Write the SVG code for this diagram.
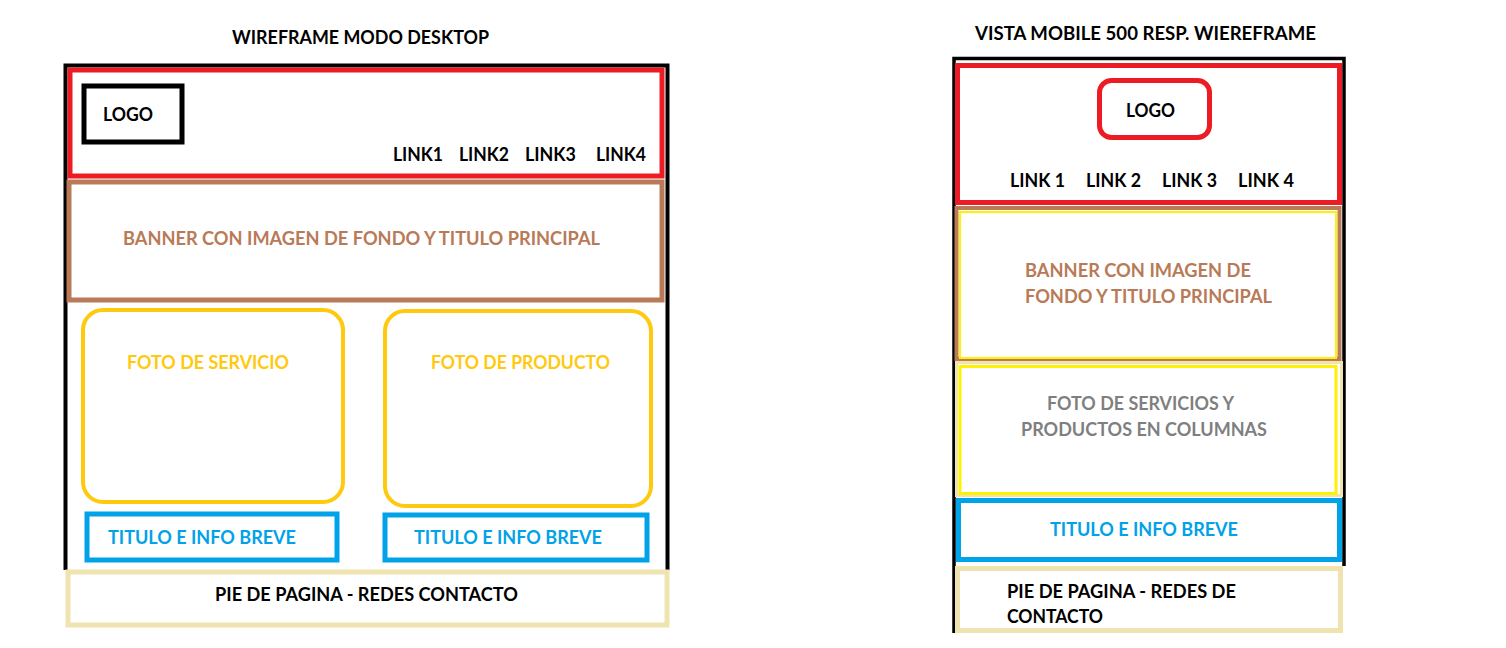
<svg xmlns="http://www.w3.org/2000/svg" width="1506" height="648" viewBox="0 0 1506 648">
<style>
text{font-family:Lato,"Open Sans","Liberation Sans",sans-serif;font-weight:bold;font-size:18px}
.k{fill:#000}.br{fill:#b97a57}.gd{fill:#ffc90e}.bl{fill:#00a2e8}.gr{fill:#7f7f7f}
.box{fill:none}
</style>
<rect width="1506" height="648" fill="#fff"/>
<g id="desktop">
<text class="k" x="232" y="44" textLength="257" lengthAdjust="spacingAndGlyphs">WIREFRAME MODO DESKTOP</text>
<g id="d-frame"><path d="M65.5 570 V65.5 H667.5 V570" fill="none" stroke="#000" stroke-width="4"/></g>
<g id="d-header">
<rect x="70" y="70" width="592" height="106" class="box" stroke="#ed1c24" stroke-width="5"/>
<rect x="84" y="86" width="98" height="56" class="box" stroke="#000" stroke-width="5"/>
<text class="k" x="103" y="121" textLength="50" lengthAdjust="spacingAndGlyphs">LOGO</text>
<text class="k" x="393" y="160.5" textLength="50" lengthAdjust="spacingAndGlyphs">LINK1</text>
<text class="k" x="459" y="160.5" textLength="50" lengthAdjust="spacingAndGlyphs">LINK2</text>
<text class="k" x="525" y="160.5" textLength="51" lengthAdjust="spacingAndGlyphs">LINK3</text>
<text class="k" x="596" y="160.5" textLength="50" lengthAdjust="spacingAndGlyphs">LINK4</text>
</g>
<g id="d-banner">
<rect x="69" y="182" width="593" height="118" class="box" stroke="#b97a57" stroke-width="5"/>
<text class="br" x="123" y="244.5" textLength="477" lengthAdjust="spacingAndGlyphs">BANNER CON IMAGEN DE FONDO Y TITULO PRINCIPAL</text>
</g>
<g id="d-servicio">
<rect x="83" y="310" width="260" height="192" rx="20" class="box" stroke="#ffc90e" stroke-width="4"/>
<text class="gd" x="127" y="368.5" textLength="162" lengthAdjust="spacingAndGlyphs">FOTO DE SERVICIO</text>
</g>
<g id="d-producto">
<rect x="385" y="311" width="266" height="195" rx="20" class="box" stroke="#ffc90e" stroke-width="4"/>
<text class="gd" x="431" y="368.5" textLength="179" lengthAdjust="spacingAndGlyphs">FOTO DE PRODUCTO</text>
</g>
<g id="d-info1">
<rect x="87" y="514" width="250" height="46" class="box" stroke="#00a2e8" stroke-width="5"/>
<text class="bl" x="108" y="543.5" textLength="188" lengthAdjust="spacingAndGlyphs">TITULO E INFO BREVE</text>
</g>
<g id="d-info2">
<rect x="385" y="515" width="262" height="45" class="box" stroke="#00a2e8" stroke-width="5"/>
<text class="bl" x="414" y="543.5" textLength="188" lengthAdjust="spacingAndGlyphs">TITULO E INFO BREVE</text>
</g>
<g id="d-footer">
<rect x="68" y="572" width="599" height="53" class="box" stroke="#efe4b0" stroke-width="5"/>
<text class="k" x="215" y="600.5" textLength="303" lengthAdjust="spacingAndGlyphs">PIE DE PAGINA - REDES CONTACTO</text>
</g>
</g>
<g id="mobile">
<text class="k" x="975" y="39.5" textLength="341" lengthAdjust="spacingAndGlyphs">VISTA MOBILE 500 RESP. WIEREFRAME</text>
<g id="m-frame"><path d="M954 633 V58.5 H1344 V566" fill="none" stroke="#000" stroke-width="3.5"/></g>
<g id="m-header">
<rect x="957.5" y="65.5" width="382" height="137" class="box" stroke="#ed1c24" stroke-width="5"/>
<rect x="1099.5" y="80.5" width="110" height="57" rx="12" class="box" stroke="#ed1c24" stroke-width="5"/>
<text class="k" x="1126" y="116.5" textLength="49" lengthAdjust="spacingAndGlyphs">LOGO</text>
<text class="k" x="1010" y="186.5" textLength="55" lengthAdjust="spacingAndGlyphs">LINK 1</text>
<text class="k" x="1086" y="186.5" textLength="55" lengthAdjust="spacingAndGlyphs">LINK 2</text>
<text class="k" x="1162" y="186.5" textLength="55" lengthAdjust="spacingAndGlyphs">LINK 3</text>
<text class="k" x="1238" y="186.5" textLength="56" lengthAdjust="spacingAndGlyphs">LINK 4</text>
</g>
<g id="m-banner">
<rect x="956.5" y="208" width="383" height="151" class="box" stroke="#b97a57" stroke-width="4"/>
<rect x="960" y="212" width="376" height="146" class="box" stroke="#fff200" stroke-width="2"/>
<text class="br" x="1025" y="276.5" textLength="226" lengthAdjust="spacingAndGlyphs">BANNER CON IMAGEN DE</text>
<text class="br" x="1025" y="302.5" textLength="247" lengthAdjust="spacingAndGlyphs">FONDO Y TITULO PRINCIPAL</text>
</g>
<g id="m-fotos">
<rect x="956.5" y="362.5" width="385" height="133" class="box" stroke="#efe4b0" stroke-width="3"/>
<rect x="960" y="366.5" width="376" height="127" class="box" stroke="#fff200" stroke-width="3"/>
<text class="gr" x="1047" y="409.5" textLength="187" lengthAdjust="spacingAndGlyphs">FOTO DE SERVICIOS Y</text>
<text class="gr" x="1021" y="435.5" textLength="246" lengthAdjust="spacingAndGlyphs">PRODUCTOS EN COLUMNAS</text>
</g>
<g id="m-info">
<rect x="958.5" y="500.5" width="381" height="59" class="box" stroke="#00a2e8" stroke-width="5"/>
<text class="bl" x="1050" y="535.5" textLength="188" lengthAdjust="spacingAndGlyphs">TITULO E INFO BREVE</text>
</g>
<g id="m-footer">
<rect x="957.5" y="568.5" width="383" height="62" class="box" stroke="#efe4b0" stroke-width="5"/>
<text class="k" x="1007" y="597.5" textLength="229" lengthAdjust="spacingAndGlyphs">PIE DE PAGINA - REDES DE</text>
<text class="k" x="1007" y="622.5" textLength="96" lengthAdjust="spacingAndGlyphs">CONTACTO</text>
</g>
</g>
<g id="connectors"/>
</svg>
